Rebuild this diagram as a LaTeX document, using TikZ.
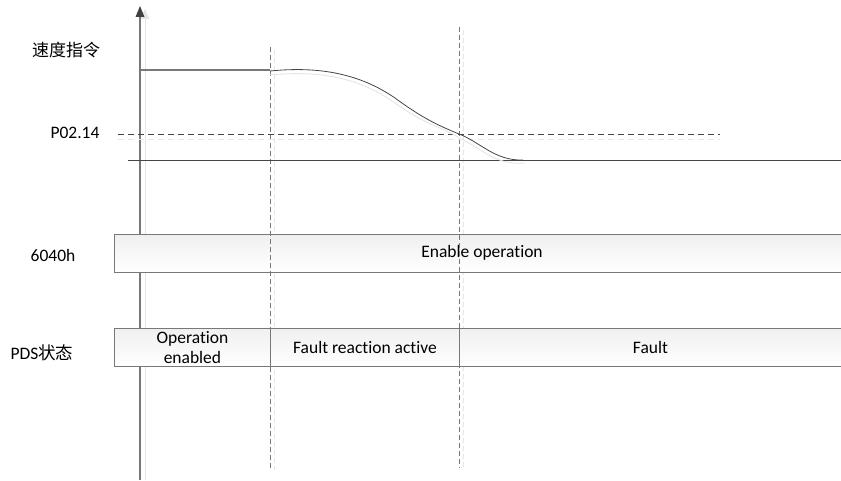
\documentclass[tikz,border=0pt]{standalone}
\usepackage{fontspec}
\setmainfont{Carlito}[Ligatures={NoCommon}]
\newfontfamily\cjk{Noto Sans CJK SC}
\definecolor{axisgray}{RGB}{120,120,120}
\definecolor{linegray}{RGB}{70,70,70}
\definecolor{boxedge}{RGB}{120,120,120}
\tikzset{
  lbl/.style={font=\fontsize{17.5}{19}\selectfont, text=black, inner sep=0pt},
  sigbox/.style={draw=boxedge, line width=0.9pt, top color=gray!12, bottom color=white, minimum height=38pt, inner sep=0pt, anchor=north west},
  vdash/.style={draw=axisgray, dash pattern=on 5pt off 3pt, line width=0.8pt},
  shadowline/.style={draw=gray!20, line width=0.8pt},
}
\begin{document}
\begin{tikzpicture}[x=1pt,y=-1pt]
\useasboundingbox (0,0) rectangle (841,481);
% axis
\draw[shadowline] (145,480) -- (145,16);
\fill[gray!20] (145,9) -- (149.5,19) -- (140.5,19) -- cycle;
\coordinate (axb) at (140,480); \coordinate (axt) at (140,16);
\draw[draw=axisgray, line width=1.3pt] (axb) -- (axt);
\fill[black!75] (140,6) -- (144.5,17) -- (135.5,17) -- cycle;
% vertical dashed markers
\coordinate (v1t) at (270,47); \coordinate (v1b) at (270,468);
\coordinate (v2t) at (459,27); \coordinate (v2b) at (459,468);
\draw[shadowline, dash pattern=on 5pt off 3pt] (274,50) -- (274,470);
\draw[shadowline, dash pattern=on 5pt off 3pt] (463,30) -- (463,470);
% boxes
\node[sigbox, minimum width=727pt] (cw) at (114,234) {};
\node[lbl] (cwt) at (482,253) {Enable operation};
\node[sigbox, minimum width=156pt] (s1) at (114,328) {};
\node[sigbox, minimum width=189pt] (s2) at (270,328) {};
\node[sigbox, minimum width=382pt] (s3) at (459,328) {};
\node[lbl, align=center, font=\fontsize{17.5}{19.5}\selectfont] at (s1.center) {Operation\\enabled};
\node[lbl] at (s2.center) {Fault reaction active};
\node[lbl] at (s3.center) {Fault};
\draw[vdash] (v1t) -- (v1b);
\draw[vdash] (v2t) -- (v2b);
% threshold
\draw[shadowline, dash pattern=on 6pt off 4pt] (118,139) -- (720,139);
\draw[draw=linegray, dash pattern=on 6pt off 4pt, line width=0.7pt] (118,134) -- (720,134);
% zero line
\draw[draw=linegray, line width=0.8pt] (128,160) -- (841,160);
% speed curve
\draw[draw=gray!20, line width=0.9pt] (270,75) .. controls (320,70) and (360,78) .. (395,103)
  .. controls (425,125) and (445,128) .. (461,139) .. controls (480,147) and (495,166) .. (525,163);
\draw[draw=axisgray, line width=1.2pt] (140,70) -- (270,70);
\draw[draw=linegray, line width=0.8pt] (270,71) .. controls (320,66) and (360,74) .. (395,98)
  .. controls (425,120) and (440,126) .. (459,134) .. controls (480,142) and (495,161) .. (523,160);
% labels
\node[lbl, font=\cjk\fontsize{17}{19}\selectfont] (l1) at (66,50) {速度指令};
\node[lbl] (l2) at (75,133) {P02.14};
\node[lbl] (l3) at (53,255) {6040h};
\node[lbl] (l4) at (42,353) {PDS{\cjk 状态}};
\end{tikzpicture}
\end{document}
